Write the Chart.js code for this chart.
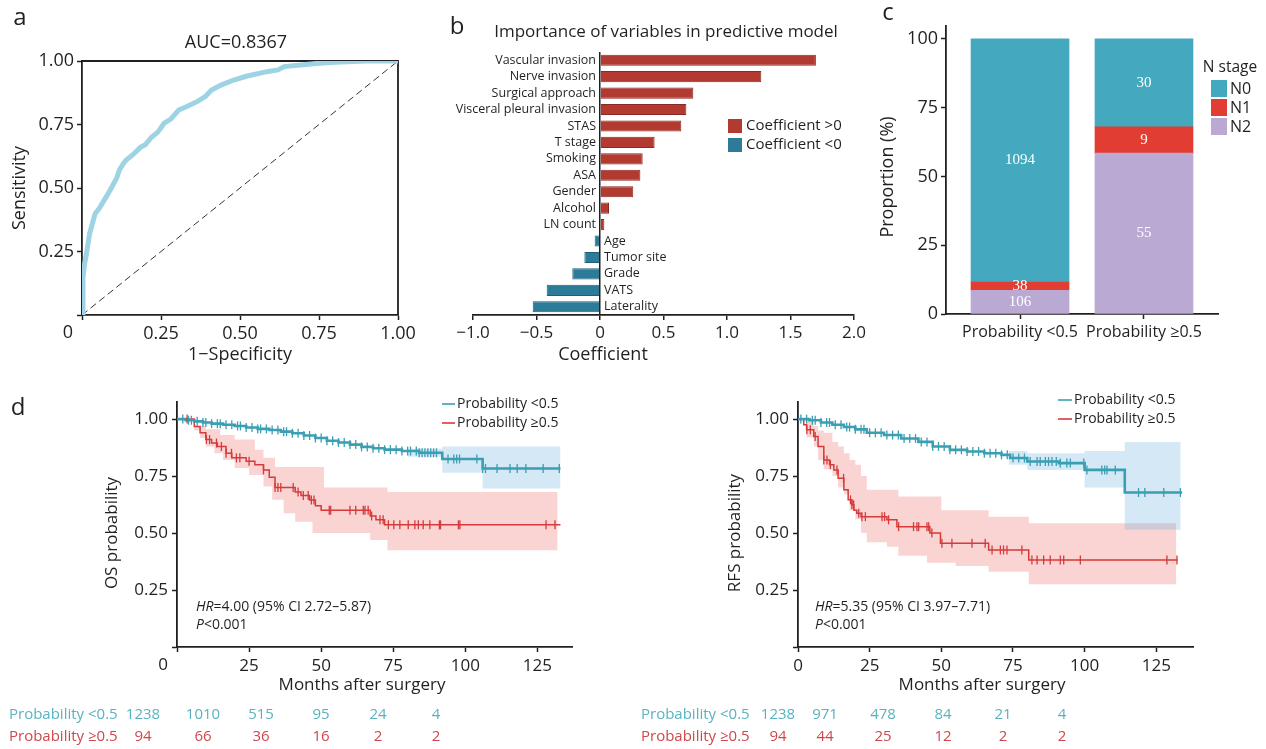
<!DOCTYPE html>
<html>
<head>
<meta charset="utf-8">
<script src="https://cdn.jsdelivr.net/npm/chart.js@4.4.1/dist/chart.umd.min.js"></script>
<style>
  body { margin: 0; background: #fff; width: 1266px; height: 749px; overflow: hidden; position: relative; }
  canvas { position: absolute; }
</style>
</head>
<body>
<canvas id="roc" width="420" height="375" style="left:0;top:0"></canvas>
<canvas id="coef" width="450" height="375" style="left:420px;top:0"></canvas>
<canvas id="nstage" width="406" height="375" style="left:860px;top:0"></canvas>
<canvas id="os" width="640" height="369" style="left:0;top:380px"></canvas>
<canvas id="rfs" width="626" height="369" style="left:640px;top:380px"></canvas>
<script>
// ---- a: ROC curve ----
const rocFpr = [0, 0.003, 0.008, 0.014, 0.024, 0.035, 0.042, 0.055, 0.069, 0.079, 0.095, 0.11, 0.118, 0.13, 0.14, 0.16, 0.185, 0.2, 0.22, 0.24, 0.26, 0.28, 0.306, 0.33, 0.364, 0.39, 0.41, 0.44, 0.48, 0.52, 0.585, 0.62, 0.64, 0.7, 0.74, 0.8, 0.9, 0.95, 1];
const rocTpr = [0, 0.15, 0.2, 0.24, 0.32, 0.37, 0.40, 0.42, 0.45, 0.47, 0.505, 0.54, 0.57, 0.595, 0.61, 0.63, 0.66, 0.67, 0.70, 0.72, 0.755, 0.77, 0.807, 0.82, 0.84, 0.86, 0.886, 0.905, 0.925, 0.94, 0.958, 0.965, 0.978, 0.985, 0.99, 0.995, 1.0, 1.0, 1.0];
const chanceLine = [0, 1];
const rocAuc = '0.8367';

// ---- b: coefficients ----
const varNames = ['Vascular invasion', 'Nerve invasion', 'Surgical approach', 'Visceral pleural invasion', 'STAS', 'T stage', 'Smoking', 'ASA', 'Gender', 'Alcohol', 'LN count', 'Age', 'Tumor site', 'Grade', 'VATS', 'Laterality'];
const coefValues = [1.70, 1.27, 0.735, 0.68, 0.64, 0.43, 0.336, 0.318, 0.262, 0.071, 0.034, -0.042, -0.123, -0.218, -0.42, -0.53];

// ---- c: N stage by group ----
const groupLabels = ['Probability <0.5', 'Probability \u22650.5'];
const stageNames = ['N0', 'N1', 'N2'];
const n0Counts = [1094, 30];
const n1Counts = [38, 9];
const n2Counts = [106, 55];

// ---- d: Kaplan-Meier, OS ----
const osLowT = [0, 3, 6, 9, 12, 16, 20, 24, 28, 32, 36, 40, 44, 48, 52, 56, 60, 64, 68, 72, 78, 84, 92, 106, 133];
const osLowS = [1, 0.995, 0.99, 0.985, 0.98, 0.975, 0.97, 0.963, 0.957, 0.952, 0.945, 0.938, 0.928, 0.917, 0.905, 0.897, 0.888, 0.878, 0.872, 0.866, 0.86, 0.852, 0.825, 0.783, 0.783];
const osLowBandT = [80, 92, 106, 133];
const osLowHi = [0.87, 0.88, 0.88, 0.88];
const osLowLo = [0.835, 0.765, 0.695, 0.695];
const osLowCens = [2, 4, 5, 7, 9, 10, 12, 14, 15, 17, 19, 21, 22, 24, 26, 28, 29, 31, 33, 35, 37, 38, 40, 42, 44, 46, 48, 50, 52, 54, 56, 58, 60, 62, 64, 66, 68, 70, 72, 74, 76, 78, 80, 81, 83, 84, 85, 86, 87, 88, 89, 90, 94, 96, 97, 98, 104, 106, 107, 111, 115.5, 118, 121, 127, 132.6];

const osHighT = [0, 6, 8, 10, 12, 14, 17, 19, 24, 27, 30, 32, 34, 41, 43, 46, 48, 50, 67, 69, 72, 133];
const osHighS = [1, 0.968, 0.94, 0.91, 0.895, 0.88, 0.85, 0.83, 0.815, 0.80, 0.777, 0.745, 0.70, 0.68, 0.665, 0.645, 0.62, 0.60, 0.575, 0.558, 0.536, 0.536];
const osHighBandT = [0, 6, 8, 10, 13, 15, 16, 20, 25, 27, 30, 33, 34, 37, 41, 47, 51, 67, 73, 132];
const osHighHi = [1, 0.97, 0.97, 0.955, 0.955, 0.93, 0.93, 0.91, 0.91, 0.865, 0.83, 0.83, 0.79, 0.79, 0.79, 0.79, 0.70, 0.70, 0.68, 0.68];
const osHighLo = [1, 0.95, 0.917, 0.88, 0.85, 0.85, 0.82, 0.785, 0.755, 0.755, 0.704, 0.646, 0.646, 0.587, 0.55, 0.50, 0.50, 0.47, 0.425, 0.425];
const osHighCens = [3.5, 10.2, 11.3, 13.7, 15.4, 17, 18.9, 20.6, 21.8, 25, 30, 34, 35, 36, 40.3, 42, 43.8, 45.5, 46.6, 47.5, 52.8, 53.3, 60, 62, 64.6, 65.2, 66.3, 67.5, 70.4, 71.5, 73.3, 75.2, 77.3, 80.2, 82.5, 83.7, 85.4, 87.7, 91, 91.4, 97.6, 98.1, 128, 131.1];

const osRiskLow = [1238, 1010, 515, 95, 24, 4];
const osRiskHigh = [94, 66, 36, 16, 2, 2];

// ---- d: Kaplan-Meier, RFS ----
const rfsLowT = [0, 4, 8, 12, 16, 20, 24, 30, 36, 42, 47, 53, 59, 65, 71, 74, 80, 91, 100, 114, 134];
const rfsLowS = [1, 0.995, 0.985, 0.975, 0.965, 0.955, 0.94, 0.93, 0.915, 0.90, 0.88, 0.865, 0.858, 0.85, 0.843, 0.829, 0.814, 0.807, 0.777, 0.678, 0.678];
const rfsLowBandT = [73.5, 80, 100, 114, 133.5];
const rfsLowHi = [0.86, 0.85, 0.86, 0.90, 0.90];
const rfsLowLo = [0.80, 0.777, 0.70, 0.514, 0.514];
const rfsLowCens = [1, 3, 5, 6, 8, 10, 11, 13, 15, 17, 18, 20, 22, 23, 25, 27, 29, 31, 33, 35, 37, 39, 41, 43, 45, 47, 49, 51, 53, 55, 57, 59, 61, 63, 65, 67, 69, 71, 73, 75, 77, 79, 81, 83.4, 84.5, 86.3, 87.4, 88.6, 90.1, 91.5, 93.8, 95, 99.7, 100.8, 106, 107, 107.8, 110.7, 118.8, 121, 127.6, 133.4];

const rfsHighT = [0, 2, 3, 5.5, 7, 9, 11, 12.5, 14, 16, 17.5, 18.8, 19.5, 20.5, 22, 31, 34.5, 46, 49.7, 66.5, 80.5, 132.5];
const rfsHighS = [1, 0.975, 0.953, 0.924, 0.88, 0.821, 0.80, 0.777, 0.74, 0.69, 0.646, 0.624, 0.60, 0.587, 0.572, 0.558, 0.528, 0.50, 0.455, 0.426, 0.382, 0.382];
const rfsHighBandT = [0, 3, 5.5, 7, 9, 12, 14, 16, 18, 20, 22, 24, 31, 35, 45, 50, 55, 66.5, 80.5, 132];
const rfsHighHi = [1, 1, 0.97, 0.95, 0.94, 0.90, 0.88, 0.85, 0.82, 0.80, 0.75, 0.69, 0.69, 0.66, 0.66, 0.60, 0.60, 0.572, 0.543, 0.543];
const rfsHighLo = [1, 0.92, 0.88, 0.82, 0.78, 0.75, 0.70, 0.67, 0.60, 0.56, 0.50, 0.46, 0.44, 0.40, 0.37, 0.37, 0.355, 0.33, 0.275, 0.275];
const rfsHighCens = [3.1, 4.3, 6, 9, 10.1, 11.3, 13.6, 15.9, 18.3, 18.8, 19.4, 21.2, 22.3, 23.5, 29.3, 30.2, 31.6, 35.1, 40.3, 41.5, 42.1, 45, 45.6, 46.7, 50.2, 53.7, 60.7, 65.3, 67.7, 70.6, 71.7, 72.9, 78.1, 81.6, 83.4, 85.7, 88, 91.5, 92.7, 98.5, 128.7, 132.2];

const rfsRiskLow = [1238, 971, 478, 84, 21, 4];
const rfsRiskHigh = [94, 44, 25, 12, 2, 2];

// ---- styling ----
const ink = '#231f20';
const F = "'Open Sans', sans-serif";
const teal = '#3a9fb3', red = '#d63a3a';
const tealText = '#5ab2bf', redText = '#d0474b';
const stageColors = ['#44a9bf', '#e23d33', '#baaad3'];

Chart.defaults.font.family = F;
Chart.defaults.color = ink;

// free text / legend marks drawn on top of a chart
const notes = {
    id: 'notes',
    afterDraw(chart, args, opts) {
        const ctx = chart.ctx;
        (opts.items || []).forEach(n => {
            ctx.save();
            if (n.line) {
                ctx.strokeStyle = n.color; ctx.lineWidth = n.w || 1.6;
                ctx.beginPath(); ctx.moveTo(n.line[0], n.line[1]); ctx.lineTo(n.line[2], n.line[3]); ctx.stroke();
            } else if (n.rect) {
                ctx.fillStyle = n.color; ctx.fillRect(n.rect[0], n.rect[1], n.rect[2], n.rect[3]);
            } else {
                ctx.fillStyle = n.color || ink;
                ctx.textBaseline = 'middle';
                ctx.translate(n.x, n.y);
                if (n.rot) ctx.rotate(n.rot);
                if (n.parts) {
                    ctx.textAlign = 'left';
                    let cx = 0;
                    n.parts.forEach(([txt, it]) => {
                        ctx.font = (it ? 'italic ' : '') + n.size + 'px ' + F;
                        ctx.fillText(txt, cx, 0);
                        cx += ctx.measureText(txt).width;
                    });
                } else {
                    ctx.textAlign = n.align || 'center';
                    ctx.font = n.size + 'px ' + (n.family || F);
                    ctx.fillText(n.t, 0, 0);
                }
            }
            ctx.restore();
        });
    }
};
Chart.register(notes);

const T = (t, x, y, size, extra) => Object.assign({ t, x, y, size }, extra || {});

function linAxis(o) {
    return {
        type: 'linear', min: o.min, max: o.max, offset: false,
        afterFit: s => { if (s.isHorizontal()) s.height = o.size; else s.width = o.size; },
        afterBuildTicks: s => {
            if (o.at) { s.ticks = o.at.map(v => ({ value: v })); return; }
            const out = [];
            for (let k = Math.ceil(o.min / o.step - 1e-9); k * o.step <= o.max + 1e-9; k++) {
                out.push({ value: +(k * o.step).toFixed(6) });
            }
            s.ticks = out;
        },
        ticks: { stepSize: o.step, font: { size: o.font || 17 }, color: ink, padding: o.pad ?? 3, callback: o.fmt },
        grid: Object.assign({ drawOnChartArea: false, drawTicks: true, offset: false, tickLength: 5, color: ink, tickColor: ink, tickWidth: 1.5 }, o.grid || {}),
        border: { display: true, color: ink, width: 1.8 }
    };
}

function baseOpts(pad, scales, items, extraPlugins) {
    return {
        responsive: false, animation: false, devicePixelRatio: 1,
        layout: { padding: pad },
        scales,
        plugins: Object.assign({ legend: { display: false }, tooltip: { enabled: false }, notes: { items } }, extraPlugins || {})
    };
}

const pts = (xs, ys) => xs.map((x, i) => ({ x, y: ys[i] }));
const fix2 = v => v === 0 ? '' : v.toFixed(2);

// ================= a =================
const rocFrame = {
    id: 'rocFrame',
    beforeDatasetsDraw(c) {
        const a = c.chartArea, ctx = c.ctx;
        ctx.save(); ctx.strokeStyle = ink; ctx.lineWidth = 1.8;
        ctx.beginPath(); ctx.moveTo(a.left, a.top); ctx.lineTo(a.right, a.top); ctx.lineTo(a.right, a.bottom); ctx.stroke();
        ctx.restore();
    }
};
new Chart(document.getElementById('roc'), {
    type: 'scatter',
    data: {
        datasets: [
            { data: pts(rocFpr, rocTpr), showLine: true, borderColor: '#9dd3e3', borderWidth: 5, pointRadius: 0 },
            { data: pts(chanceLine, chanceLine), showLine: true, borderColor: '#333', borderWidth: 1, borderDash: [7, 4], pointRadius: 0 }
        ]
    },
    options: baseOpts({ top: 61, right: 22, left: 0, bottom: 0 }, {
        x: linAxis({ min: 0, max: 1, step: 0.25, size: 375 - 315, font: 18, fmt: fix2 }),
        y: linAxis({ min: 0, max: 1, step: 0.25, size: 82, font: 18, fmt: fix2 })
    }, [
        T('a', 20, 18, 24),
        T('AUC=' + rocAuc, 236, 43, 18),
        T('Sensitivity', 20, 188, 18, { rot: -Math.PI / 2 }),
        T('1\u2212Specificity', 240, 355, 18),
        T('0', 68, 333, 18)
    ]),
    plugins: [rocFrame]
});

// ================= b =================
const coefLabels = {
    id: 'coefLabels',
    afterDatasetsDraw(c) {
        const ctx = c.ctx, x0 = c.scales.x.getPixelForValue(0), ys = c.scales.y;
        ctx.save();
        ctx.font = '12.5px ' + F; ctx.fillStyle = ink; ctx.textBaseline = 'middle';
        varNames.forEach((name, i) => {
            const pos = coefValues[i] >= 0;
            ctx.textAlign = pos ? 'right' : 'left';
            ctx.fillText(name, pos ? x0 - 4 : x0 + 4, ys.getPixelForValue(i));
        });
        ctx.restore();
    }
};
const coefFill = v => v >= 0 ? '#b23a30' : '#2c7c99';
const coefEdge = v => v >= 0 ? '#8a2a22' : '#1f5f78';
new Chart(document.getElementById('coef'), {
    type: 'bar',
    data: {
        labels: varNames,
        datasets: [{
            data: coefValues,
            backgroundColor: coefValues.map(coefFill),
            borderColor: coefValues.map(coefEdge),
            borderWidth: 1,
            barPercentage: 0.68, categoryPercentage: 1
        }]
    },
    options: Object.assign(baseOpts({ top: 52, right: 16, left: 53, bottom: 0 }, {
        x: linAxis({
            min: -1, max: 2, step: 0.5, size: 375 - 315, font: 17,
            fmt: v => v === 0 ? '0' : (v < 0 ? '\u2212' : '') + Math.abs(v).toFixed(1),
            grid: { drawOnChartArea: true, color: c => (c.tick && c.tick.value === 0) ? ink : 'rgba(0,0,0,0)', lineWidth: 1.5 }
        }),
        y: { type: 'category', display: false }
    }, [
        T('b', 37, 27, 24),
        T('Importance of variables in predictive model', 246, 32, 17),
        T('Coefficient', 183, 355, 18),
        { rect: [308, 119, 14, 14], color: coefFill(1) },
        { rect: [308, 138, 14, 14], color: coefFill(-1) },
        T('Coefficient >0', 326, 126, 15, { align: 'left' }),
        T('Coefficient <0', 326, 145, 15, { align: 'left' })
    ]), { indexAxis: 'y' }),
    plugins: [coefLabels]
});

// ================= c =================
const stageCounts = [n0Counts, n1Counts, n2Counts];
const groupTotals = groupLabels.map((_, j) => stageCounts.reduce((s, arr) => s + arr[j], 0));
const pct = arr => arr.map((v, j) => 100 * v / groupTotals[j]);
const barCounts = {
    id: 'barCounts',
    afterDatasetsDraw(c) {
        const ctx = c.ctx;
        ctx.save();
        ctx.font = '15px "Liberation Serif", serif'; ctx.fillStyle = '#fff';
        ctx.textAlign = 'center'; ctx.textBaseline = 'middle';
        c.data.datasets.forEach((ds, i) => {
            c.getDatasetMeta(i).data.forEach((el, j) => {
                ctx.fillText(String(ds.counts[j]), el.x, (el.y + el.base) / 2);
            });
        });
        ctx.restore();
    }
};
// stack from bottom: N2, N1, N0
const stackOrder = [2, 1, 0];
new Chart(document.getElementById('nstage'), {
    type: 'bar',
    data: {
        datasets: stackOrder.map(k => ({
            label: stageNames[k],
            counts: stageCounts[k],
            data: pct(stageCounts[k]).map((v, j) => ({ x: j, y: v })),
            backgroundColor: stageColors[k],
            barThickness: 98
        }))
    },
    options: baseOpts({ top: 26, right: 406 - 358, left: 0, bottom: 0 }, {
        x: Object.assign(linAxis({ min: -0.597, max: 1.597, at: [0, 1], size: 375 - 314, font: 16, pad: 4, fmt: v => groupLabels[v] }), { stacked: true }),
        y: Object.assign(linAxis({ min: 0, max: 104.7, step: 25, size: 86, font: 18, fmt: v => String(v) }), { stacked: true })
    }, [
        T('c', 28, 13, 24),
        T('Proportion (%)', 28, 177, 18, { rot: -Math.PI / 2 }),
        T('N stage', 370, 68, 15.5),
        { rect: [351, 80, 16, 17], color: stageColors[0] },
        { rect: [351, 99, 16, 17], color: stageColors[1] },
        { rect: [351, 118, 16, 17], color: stageColors[2] },
        T(stageNames[0], 370, 89, 16, { align: 'left' }),
        T(stageNames[1], 370, 108, 16, { align: 'left' }),
        T(stageNames[2], 370, 127, 16, { align: 'left' })
    ]),
    plugins: [barCounts]
});

// ================= d =================
function stepAt(ts, ss, t) {
    let v = ss[0];
    ts.forEach((x, i) => { if (x <= t) v = ss[i]; });
    return v;
}

function riskRows(lowCounts, highCounts, xs, labelX, cutX) {
    const items = [];
    const rows = [[lowCounts, tealText, '<0.5', 335], [highCounts, redText, '\u22650.5', 357]];
    rows.forEach(([counts, col, cut, y]) => {
        items.push(T('Probability', labelX, y, 15, { align: 'left', color: col }));
        items.push(T(cut, cutX, y, 15, { align: 'left', color: col }));
        counts.forEach((n, i) => items.push(T(String(n), xs[i], y, 15, { color: col })));
    });
    return items;
}

function kmChart(id, km) {
    const groups = [
        { t: km.lowT, s: km.lowS, bandT: km.lowBandT, hi: km.lowHi, lo: km.lowLo, cens: km.lowCens, color: teal, band: 'rgba(120,185,225,0.32)', width: 2.6 },
        { t: km.highT, s: km.highS, bandT: km.highBandT, hi: km.highHi, lo: km.highLo, cens: km.highCens, color: red, band: 'rgba(240,120,120,0.33)', width: 1.5 }
    ];
    const ds = [];
    groups.forEach(g => {
        ds.push({ data: pts(g.bandT, g.hi), fill: '+1', backgroundColor: g.band, borderWidth: 0, pointRadius: 0, stepped: 'before', order: 3 });
        ds.push({ data: pts(g.bandT, g.lo), fill: false, borderWidth: 0, pointRadius: 0, stepped: 'before', order: 3 });
    });
    groups.forEach(g => {
        ds.push({ data: pts(g.t, g.s), borderColor: g.color, borderWidth: g.width, pointRadius: 0, stepped: 'before', fill: false, order: 1 });
        ds.push({
            data: g.cens.map(t => ({ x: t, y: stepAt(g.t, g.s, t) })),
            showLine: false, fill: false, pointStyle: 'line', pointRotation: 90, pointRadius: 4.5,
            pointBorderColor: g.color, pointBorderWidth: 1.3, borderColor: g.color, order: 0
        });
    });
    const W = document.getElementById(id).width;
    new Chart(document.getElementById(id), {
        type: 'line',
        data: { datasets: ds },
        options: baseOpts({ top: 22, right: W - km.right, left: 0, bottom: 0 }, {
            x: linAxis({ min: 0, max: km.xmax, step: 25, size: 369 - 267, font: 17, pad: 4, fmt: km.xfmt }),
            y: linAxis({ min: 0, max: 1.075, step: 0.25, size: km.left, font: 17, pad: 4, fmt: fix2 })
        }, km.items)
    });
}

kmChart('os', {
    lowT: osLowT, lowS: osLowS, lowBandT: osLowBandT, lowHi: osLowHi, lowLo: osLowLo, lowCens: osLowCens,
    highT: osHighT, highS: osHighS, highBandT: osHighBandT, highHi: osHighHi, highLo: osHighLo, highCens: osHighCens,
    left: 177, right: 572, xmax: 137, xfmt: v => v === 0 ? '' : String(v),
    items: [
        T('d', 18, 28, 24),
        T('OS probability', 112, 153, 17, { rot: -Math.PI / 2 }),
        T('Months after surgery', 362, 305, 17),
        T('0', 163, 285, 17),
        { x: 196, y: 227, size: 14, parts: [['HR', true], ['=4.00 (95% CI 2.72\u20135.87)', false]] },
        { x: 196, y: 245, size: 14, parts: [['P', true], ['<0.001', false]] },
        { line: [442, 24, 455, 24], color: teal },
        { line: [442, 43, 455, 43], color: red },
        T('Probability <0.5', 457, 24, 14, { align: 'left' }),
        T('Probability \u22650.5', 457, 43, 14, { align: 'left' })
    ].concat(riskRows(osRiskLow, osRiskHigh, [143, 203, 261, 321, 378, 436], 9, 88))
});

kmChart('rfs', {
    lowT: rfsLowT, lowS: rfsLowS, lowBandT: rfsLowBandT, lowHi: rfsLowHi, lowLo: rfsLowLo, lowCens: rfsLowCens,
    highT: rfsHighT, highS: rfsHighS, highBandT: rfsHighBandT, highHi: rfsHighHi, highLo: rfsHighLo, highCens: rfsHighCens,
    left: 158, right: 553, xmax: 137.8, xfmt: v => String(v),
    items: [
        T('RFS probability', 95, 153, 17, { rot: -Math.PI / 2 }),
        T('Months after surgery', 342, 305, 17),
        { x: 175, y: 227, size: 14, parts: [['HR', true], ['=5.35 (95% CI 3.97\u20137.71)', false]] },
        { x: 175, y: 245, size: 14, parts: [['P', true], ['<0.001', false]] },
        { line: [418, 20, 432, 20], color: teal },
        { line: [418, 39, 432, 39], color: red },
        T('Probability <0.5', 434, 20, 14, { align: 'left' }),
        T('Probability \u22650.5', 434, 39, 14, { align: 'left' })
    ].concat(riskRows(rfsRiskLow, rfsRiskHigh, [138, 185, 243, 303, 363, 422], 1, 80))
});
</script>
</body>
</html>
